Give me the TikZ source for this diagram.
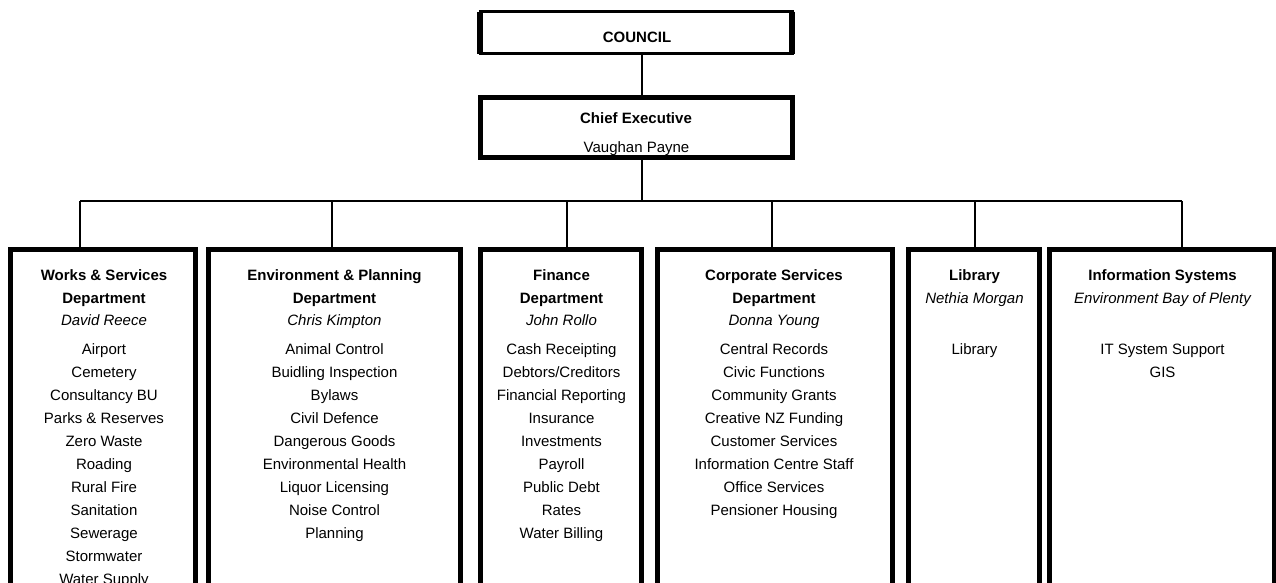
\documentclass[tikz,border=0pt]{standalone}
\usepackage{fontspec}
\setmainfont{Liberation Sans}
\begin{document}
\begin{tikzpicture}[x=1pt,y=-1pt,
  box/.style={draw, line width=5pt, inner sep=0pt, outer sep=0pt, anchor=north west},
  conn/.style={line width=1.4pt},
  txt/.style={anchor=base, inner sep=0pt, font=\fontsize{15}{18}\selectfont},
  hd/.style={txt, font=\fontsize{15}{18}\selectfont\bfseries},
  nm/.style={txt, font=\fontsize{15}{18}\selectfont\itshape}]
\useasboundingbox (0,0) rectangle (1276,582);
\clip (0,0) rectangle (1276,582);

% top boxes
\node[box, line width=3pt, minimum width=312pt, minimum height=42pt] (council) at (480,11.5) {};
\draw[line width=5.5pt] (council.north west) -- (council.south west);
\draw[line width=5.5pt] (council.north east) -- (council.south east);
\node[hd] (tcouncil) at (637,42) {COUNCIL};

\node[txt] (tceo2) at (636.5,152) {Vaughan Payne};
\node[box, minimum width=312pt, minimum height=60pt] (ceo) at (480,97.5) {};
\node[hd] (tceo1) at (636,123) {Chief Executive};

% department boxes
\node[box, minimum width=185pt, minimum height=500pt] (d1) at (10.5,249.5) {};
\node[box, minimum width=252.5pt, minimum height=500pt] (d2) at (208,249.5) {};
\node[box, minimum width=160.5pt, minimum height=500pt] (d3) at (480.5,249.5) {};
\node[box, minimum width=235pt, minimum height=500pt] (d4) at (657.5,249.5) {};
\node[box, minimum width=131pt, minimum height=500pt] (d5) at (908.5,249.5) {};
\node[box, minimum width=225pt, minimum height=500pt] (d6) at (1049.5,249.5) {};

% connectors
\coordinate (j0) at (642,201);
\draw[conn] (council.south -| j0) -- (ceo.north -| j0);
\draw[conn] (ceo.south -| j0) -- (j0);
\foreach \x [count=\i] in {80,332,567,772,975,1182} \coordinate (b\i) at (\x,201);
\draw[conn] (b1) -- (b6);
\foreach \i in {1,...,6} \draw[conn] (b\i) -- (d\i.north -| b\i);

% Works & Services
\node[hd] (h1a) at (104,280) {Works \& Services};
\node[hd] (h1b) at (104,303) {Department};
\node[nm] (n1) at (104,325) {David Reece};
\foreach \t [count=\i from 0] in {Airport,Cemetery,Consultancy BU,Parks \& Reserves,Zero Waste,Roading,Rural Fire,Sanitation,Sewerage,Stormwater,Water Supply}
  \node[txt] (w\i) at (104,354+23*\i) {\t};

% Environment & Planning
\node[hd] (h2a) at (334.5,280) {Environment \& Planning};
\node[hd] (h2b) at (334.5,303) {Department};
\node[nm] (n2) at (334.5,325) {Chris Kimpton};
\foreach \t [count=\i from 0] in {Animal Control,Buidling Inspection,Bylaws,Civil Defence,Dangerous Goods,Environmental Health,Liquor Licensing,Noise Control,Planning}
  \node[txt] (e\i) at (334.5,354+23*\i) {\t};

% Finance
\node[hd] (h3a) at (561.5,280) {Finance};
\node[hd] (h3b) at (561.5,303) {Department};
\node[nm] (n3) at (561.5,325) {John Rollo};
\foreach \t [count=\i from 0] in {Cash Receipting,Debtors/Creditors,Financial Reporting,Insurance,Investments,Payroll,Public Debt,Rates,Water Billing}
  \node[txt] (f\i) at (561.5,354+23*\i) {\t};

% Corporate Services
\node[hd] (h4a) at (774,280) {Corporate Services};
\node[hd] (h4b) at (774,303) {Department};
\node[nm] (n4) at (774,325) {Donna Young};
\foreach \t [count=\i from 0] in {Central Records,Civic Functions,Community Grants,Creative NZ Funding,Customer Services,Information Centre Staff,Office Services,Pensioner Housing}
  \node[txt] (c\i) at (774,354+23*\i) {\t};

% Library
\node[hd] (h5a) at (974.5,280) {Library};
\node[nm] (n5) at (974.5,303) {Nethia Morgan};
\node[txt] (l0) at (974.5,354) {Library};

% Information Systems
\node[hd] (h6a) at (1162.5,280) {Information Systems};
\node[nm] (n6) at (1162.5,303) {Environment Bay of Plenty};
\node[txt] (i0) at (1162.5,354) {IT System Support};
\node[txt] (i1) at (1162.5,377) {GIS};
\end{tikzpicture}
\end{document}
